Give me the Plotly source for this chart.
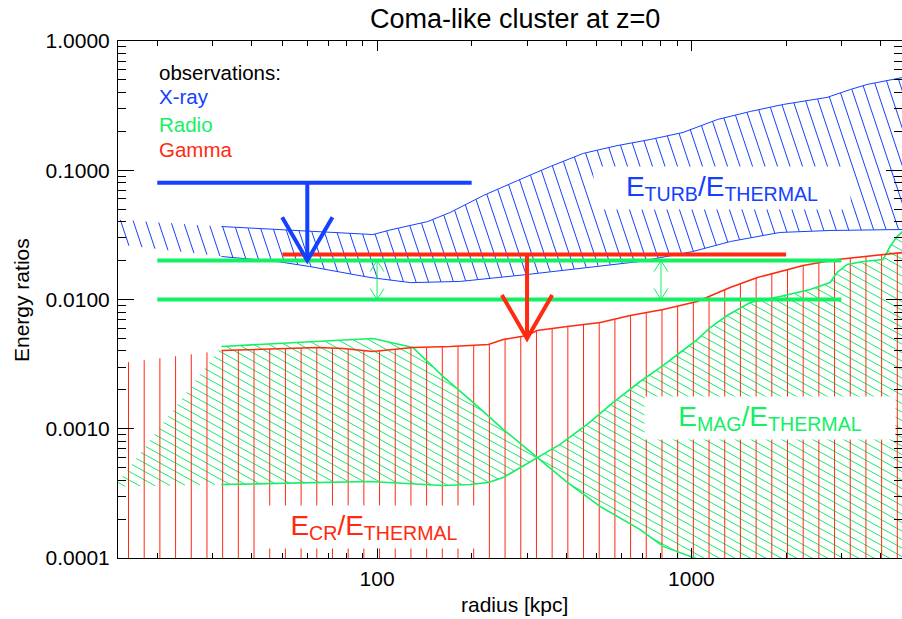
import numpy as np
import plotly.graph_objects as go

# ---------------- data (radius in kpc, energy ratios) ----------------
# E_TURB / E_THERMAL band (X-ray)
turb_r_hi = [15, 32, 60, 97, 110, 145, 171, 218, 280, 356, 453, 580, 740, 940, 1210, 1540, 1960, 2700, 3200, 3620, 4700]
turb_e_hi = [0.0416, 0.0367, 0.0339, 0.0318, 0.0345, 0.0401, 0.0472, 0.0638, 0.0833, 0.107, 0.135, 0.155,
             0.173, 0.196, 0.247, 0.285, 0.323, 0.366, 0.421, 0.461, 0.522]
turb_r_lo = [15, 32, 48, 61, 95, 128, 184, 300, 487, 687, 1010, 1330, 1910, 2760, 4700]
turb_e_lo = [0.0266, 0.0215, 0.0197, 0.0180, 0.0148, 0.0135, 0.0138, 0.0156, 0.0180, 0.0197, 0.0235,
             0.0281, 0.0330, 0.0342, 0.0348]

# E_MAG / E_THERMAL band (Radio): two bounding curves that cross
mag_a_r = [15, 32, 97, 130, 162, 202, 252, 323, 403, 513, 687, 813, 1013, 1537]
mag_a_e = [3.84e-4, 4.33e-3, 4.99e-3, 4.25e-3, 2.54e-3, 1.60e-3, 9.9e-4, 6.0e-4, 3.84e-4, 2.50e-4,
           1.66e-4, 1.23e-4, 1.01e-4, 6.8e-5]
mag_b_r = [15, 32, 95, 162, 198, 226, 252, 286, 323, 382, 466, 564, 687, 813, 921, 1043, 1147, 1299,
           1537, 1914, 2385, 2760, 2906, 3127, 3516, 4070, 4284, 4510, 4700]
mag_b_e = [3.57e-4, 3.70e-4, 3.91e-4, 3.64e-4, 3.70e-4, 3.84e-4, 4.20e-4, 5.01e-4, 5.99e-4, 7.56e-4,
           1.08e-3, 1.60e-3, 2.32e-3, 3.09e-3, 3.89e-3, 4.90e-3, 6.07e-3, 7.52e-3, 9.48e-3, 0.01055,
           0.01195, 0.01354, 0.01618, 0.01866, 0.01968, 0.0204, 0.0257, 0.0307, 0.0336]

# E_CR / E_THERMAL upper envelope (Gamma)
cr_r = [15, 32, 65, 78, 97, 130, 171, 226, 252, 300, 323, 403, 513, 639, 813, 1043, 1327, 1622, 1914,
        2267, 2906, 3516, 4700]
cr_e = [3.20e-3, 4.03e-3, 4.25e-3, 4.18e-3, 3.96e-3, 4.25e-3, 4.33e-3, 4.49e-3, 4.90e-3, 5.27e-3,
        5.76e-3, 6.18e-3, 6.64e-3, 7.52e-3, 8.37e-3, 9.65e-3, 0.01238, 0.0148, 0.01647, 0.01832,
        0.0204, 0.02151, 0.0231]

# observational constraints
xray_r = [20, 200]
xray_limit = 0.08
xray_arrow_r = 60
xray_arrow_to = 0.02
radio_r = [20, 3000]
radio_levels = [0.01, 0.02]
radio_arrow_r = [100, 800]
gamma_r = [50, 2000]
gamma_limit = 0.0223
gamma_arrow_r = 300
gamma_arrow_to = 0.005

x_ticks = [100, 1000]
x_ticktext = ["100", "1000"]
y_ticks = [1e-4, 1e-3, 1e-2, 1e-1, 1.0]
y_ticktext = ["0.0001", "0.0010", "0.0100", "0.1000", "1.0000"]

# ---------------- style ----------------
BLUE = "#1440ff"
GREEN = "#14f064"
RED = "#ff2a10"
FONT = "Liberation Sans, Arial, sans-serif"

W, H = 902, 619
ML, MR, MT, MB = 118, 0, 41, 61
PW, PH = W - ML - MR, H - MT - MB
XR = [np.log10(15.0), np.log10(15.0) + PW / 314.4]
YR = [-4.0, 0.0]
PXX = PW / (XR[1] - XR[0])   # px per decade (x)
PXY = PH / (YR[1] - YR[0])   # px per decade (y)


def pxx(p):
    return (p - ML) / PW


def pxy(p):
    return (H - MB - p) / PH


def runs(mask):
    m = np.concatenate([[0], mask.astype(int), [0]])
    d = np.diff(m)
    return zip(np.where(d == 1)[0], np.where(d == -1)[0] - 1)


def slanted_hatch(u, lo, hi, pix_slope, pix_vgap):
    k = pix_slope * PXX / PXY
    dc = pix_vgap / PXY
    cmin = np.min(lo + k * u)
    cmax = np.max(hi + k * u)
    xs, ys = [], []
    for c in np.arange(np.floor(cmin / dc) * dc, cmax + dc, dc):
        v = c - k * u
        inside = (v >= lo) & (v <= hi)
        for i0, i1 in runs(inside):
            if i1 > i0:
                xs += [10 ** u[i0], 10 ** u[i1], None]
                ys += [10 ** v[i0], 10 ** v[i1], None]
    return xs, ys


fig = go.Figure()

# ---- E_TURB band ----
u = np.linspace(np.log10(turb_r_hi[0]), np.log10(turb_r_hi[-1]), 9000)
lo = np.interp(u, np.log10(turb_r_lo), np.log10(turb_e_lo))
hi = np.interp(u, np.log10(turb_r_hi), np.log10(turb_e_hi))
hx, hy = slanted_hatch(u, lo, hi, 3.0, 37.5)
fig.add_trace(go.Scatter(x=hx, y=hy, mode="lines", line=dict(color=BLUE, width=1)))
fig.add_trace(go.Scatter(x=turb_r_hi[1:], y=turb_e_hi[1:], mode="lines", line=dict(color=BLUE, width=1)))
fig.add_trace(go.Scatter(x=turb_r_lo[1:], y=turb_e_lo[1:], mode="lines", line=dict(color=BLUE, width=1)))

# ---- E_MAG band ----
u = np.linspace(np.log10(mag_b_r[0]), np.log10(mag_b_r[-1]), 6000)
va = np.interp(u, np.log10(mag_a_r), np.log10(mag_a_e), right=-8.0)
vb = np.interp(u, np.log10(mag_b_r), np.log10(mag_b_e))
gx, gy = slanted_hatch(u, np.minimum(va, vb), np.maximum(va, vb), 0.55, 8.5)
fig.add_trace(go.Scatter(x=gx, y=gy, mode="lines", line=dict(color=GREEN, width=1)))

# ---- E_CR band: vertical hatching down to the axis ----
u_cr = np.log10(cr_r)
ucol = np.arange(np.log10(16.2), u_cr[-1], 15.69 / PXX)
rx, ry = [], []
for uc in ucol:
    top = 10 ** np.interp(uc, u_cr, np.log10(cr_e))
    rx += [10 ** uc, 10 ** uc, None]
    ry += [10 ** (YR[0] - 0.05), top, None]
fig.add_trace(go.Scatter(x=rx, y=ry, mode="lines", line=dict(color=RED, width=1)))

# band borders
fig.add_trace(go.Scatter(x=mag_a_r[1:], y=mag_a_e[1:], mode="lines", line=dict(color=GREEN, width=1.6)))
fig.add_trace(go.Scatter(x=mag_b_r[1:], y=mag_b_e[1:], mode="lines", line=dict(color=GREEN, width=1.6)))
fig.add_trace(go.Scatter(x=cr_r[1:], y=cr_e[1:], mode="lines", line=dict(color=RED, width=1.6)))


def vhead(r, e_tip, hw, hh, pointing_down=True):
    s = 1 if pointing_down else -1
    return ([r * 10 ** (-hw), r, r * 10 ** hw], [e_tip * 10 ** (s * hh), e_tip, e_tip * 10 ** (s * hh)])


# ---- radio constraints ----
for lev in radio_levels:
    fig.add_trace(go.Scatter(x=radio_r, y=[lev, lev], mode="lines", line=dict(color=GREEN, width=4)))
for ra in radio_arrow_r:
    fig.add_trace(go.Scatter(x=[ra, ra], y=radio_levels, mode="lines", line=dict(color=GREEN, width=1)))
    ax, ay = vhead(ra, radio_levels[1], 0.022, 0.085, pointing_down=False)
    fig.add_trace(go.Scatter(x=ax, y=ay, mode="lines", line=dict(color=GREEN, width=1)))
    ax, ay = vhead(ra, radio_levels[0], 0.022, 0.085, pointing_down=True)
    fig.add_trace(go.Scatter(x=ax, y=ay, mode="lines", line=dict(color=GREEN, width=1)))

# ---- gamma constraint ----
fig.add_trace(go.Scatter(x=gamma_r, y=[gamma_limit] * 2, mode="lines", line=dict(color=RED, width=4)))
fig.add_trace(go.Scatter(x=[gamma_arrow_r] * 2, y=[gamma_limit, gamma_arrow_to], mode="lines",
                         line=dict(color=RED, width=4)))
ax, ay = vhead(gamma_arrow_r, gamma_arrow_to, 0.08, 0.335)
fig.add_trace(go.Scatter(x=ax, y=ay, mode="lines", line=dict(color=RED, width=4)))

# ---- X-ray constraint ----
fig.add_trace(go.Scatter(x=xray_r, y=[xray_limit] * 2, mode="lines", line=dict(color=BLUE, width=4)))
fig.add_trace(go.Scatter(x=[xray_arrow_r] * 2, y=[xray_limit, xray_arrow_to], mode="lines",
                         line=dict(color=BLUE, width=4)))
ax, ay = vhead(xray_arrow_r, xray_arrow_to, 0.08, 0.335)
fig.add_trace(go.Scatter(x=ax, y=ay, mode="lines", line=dict(color=BLUE, width=4)))

# ---------------- text ----------------
ann = []
ann.append(dict(text="Coma-like cluster at z=0", x=pxx(515), y=pxy(19), font=dict(size=27, color="black")))
ann.append(dict(text="radius [kpc]", x=pxx(514), y=pxy(604), font=dict(size=21, color="black")))
ann.append(dict(text="Energy ratios", x=pxx(21), y=pxy(300), textangle=-90, font=dict(size=21, color="black")))
for txt, yc, col in [("observations:", 72.5, "black"), ("X-ray", 97, BLUE), ("Radio", 124, GREEN),
                     ("Gamma", 149.5, RED)]:
    ann.append(dict(text=txt, x=pxx(157), y=pxy(yc), xanchor="left", font=dict(size=20.5, color=col)))
for txt, xc, yc, wd, col in [("E<sub>TURB</sub>/E<sub>THERMAL</sub>", 722, 188, 256, BLUE),
                             ("E<sub>MAG</sub>/E<sub>THERMAL</sub>", 770, 418, 250, GREEN),
                             ("E<sub>CR</sub>/E<sub>THERMAL</sub>", 374, 527, 220, RED)]:
    ann.append(dict(text=txt, x=pxx(xc), y=pxy(yc), width=wd, height=42, bgcolor="white", borderpad=0,
                    font=dict(size=28, color=col)))
for a in ann:
    a.setdefault("xanchor", "center")
    a.update(xref="paper", yref="paper", yanchor="middle", showarrow=False)

axis_common = dict(type="log", showgrid=False, zeroline=False, showline=True, linecolor="black",
                   linewidth=1, mirror="allticks", ticks="inside", tickcolor="black", tickwidth=1,
                   tickfont=dict(size=21, color="black", family=FONT))

fig.update_layout(
    width=W, height=H, autosize=False,
    margin=dict(l=ML, r=MR, t=MT, b=MB, pad=0),
    paper_bgcolor="white", plot_bgcolor="white",
    showlegend=False,
    font=dict(family=FONT, color="black"),
    annotations=ann,
    xaxis=dict(axis_common, range=XR, tickvals=x_ticks, ticktext=x_ticktext, ticklen=10,
               ticklabelstandoff=2,
               minor=dict(ticks="inside", ticklen=5, tickcolor="black", showgrid=False,
                          tickvals=[m * d for d in (10, 100, 1000) for m in range(2, 10)])),
    yaxis=dict(axis_common, range=YR, tickvals=y_ticks, ticktext=y_ticktext, ticklen=16,
               ticklabelstandoff=3,
               minor=dict(ticks="inside", ticklen=8, tickcolor="black", showgrid=False,
                          tickvals=[m * d for d in (1e-4, 1e-3, 1e-2, 1e-1) for m in range(2, 10)])),
    hovermode=False,
)

fig.write_html("out.html", config={"displayModeBar": False, "staticPlot": True},
               post_script="document.body.style.margin='0px';document.body.style.overflow='hidden';")
